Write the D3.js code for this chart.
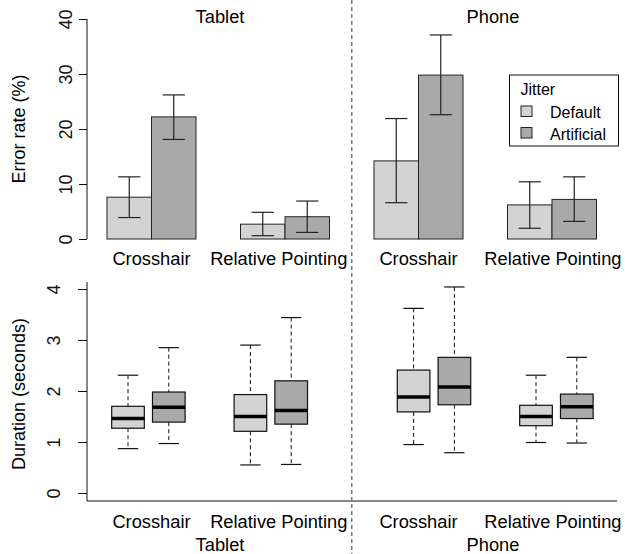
<!DOCTYPE html>
<html>
<head>
<meta charset="utf-8">
<script src="https://cdn.jsdelivr.net/npm/d3@7"></script>
<style>
  body { margin: 0; background: #fff; }
  svg { font-family: "Liberation Sans", Arial, sans-serif; }
</style>
</head>
<body>
<svg id="chart" width="625" height="554"></svg>
<script>
// devices / techniques / jitter conditions
var devices = ["Tablet", "Phone"];
var techniques = ["Crosshair", "Relative Pointing"];
var jitter = ["Default", "Artificial"];

// error rate (%) per bar: tablet-crosshair D/A, tablet-relative D/A, phone-crosshair D/A, phone-relative D/A
var errMean = [7.6, 22.2, 2.7, 4.05, 14.2, 29.8, 6.2, 7.2];
var errLow  = [3.9, 18.1, 0.6, 1.2, 6.6, 22.6, 1.95, 3.2];
var errHigh = [11.3, 26.2, 4.85, 6.9, 21.9, 37.1, 10.4, 11.3];

// duration (seconds) boxplot stats, same order
var durLo  = [0.87, 0.97, 0.55, 0.56, 0.95, 0.79, 0.99, 0.98];
var durQ1  = [1.27, 1.39, 1.21, 1.35, 1.59, 1.73, 1.32, 1.46];
var durMed = [1.46, 1.68, 1.50, 1.62, 1.88, 2.08, 1.50, 1.69];
var durQ3  = [1.70, 1.98, 1.93, 2.20, 2.41, 2.66, 1.72, 1.94];
var durHi  = [2.31, 2.85, 2.90, 3.44, 3.62, 4.04, 2.31, 2.66];

var errTicks = [0, 10, 20, 30, 40];
var durTicks = [0, 1, 2, 3, 4];

var fills = ["#d3d3d3", "#a9a9a9"];

var svg = d3.select("#chart");

// bar slots in barplot units: 2 bars + 1 gap per group
var barPos = [1, 2, 4, 5, 7, 8, 10, 11];
var boxPos = [1, 2, 4, 5, 8, 9, 11, 12];

var xTop = d3.scaleLinear().domain([1, 12]).range([107, 596.5]);
var yTop = d3.scaleLinear().domain([0, 40]).range([239, 19]);
var xBot = d3.scaleLinear().domain([1, 12]).range([128, 576.8]);
var yBot = d3.scaleLinear().domain([0, 4]).range([493, 289]);

// ---- top panel: error rate bars ----
var gTop = svg.append("g");

gTop.selectAll(".bar")
  .data(errMean).enter()
  .append("rect")
  .attr("class", "bar")
  .attr("x", function(d, i){ return xTop(barPos[i]); })
  .attr("y", function(d){ return yTop(d); })
  .attr("width", xTop(2) - xTop(1))
  .attr("height", function(d){ return yTop(0) - yTop(d); })
  .attr("fill", function(d, i){ return fills[i % 2]; })
  .attr("stroke", "#222")
  .attr("stroke-width", 1);

var capW = 0.25;
var eb = gTop.selectAll(".err")
  .data(errMean).enter()
  .append("g")
  .attr("class", "err")
  .attr("stroke", "#222")
  .attr("stroke-width", 1.2);
eb.append("line")
  .attr("x1", function(d, i){ return xTop(barPos[i] + 0.5); })
  .attr("x2", function(d, i){ return xTop(barPos[i] + 0.5); })
  .attr("y1", function(d, i){ return yTop(errLow[i]); })
  .attr("y2", function(d, i){ return yTop(errHigh[i]); });
eb.append("line")
  .attr("x1", function(d, i){ return xTop(barPos[i] + 0.5 - capW); })
  .attr("x2", function(d, i){ return xTop(barPos[i] + 0.5 + capW); })
  .attr("y1", function(d, i){ return yTop(errLow[i]); })
  .attr("y2", function(d, i){ return yTop(errLow[i]); });
eb.append("line")
  .attr("x1", function(d, i){ return xTop(barPos[i] + 0.5 - capW); })
  .attr("x2", function(d, i){ return xTop(barPos[i] + 0.5 + capW); })
  .attr("y1", function(d, i){ return yTop(errHigh[i]); })
  .attr("y2", function(d, i){ return yTop(errHigh[i]); });

var yAxisTop = d3.axisLeft(yTop).tickValues(errTicks).tickFormat(d3.format("d")).tickSize(8).tickPadding(0);
var gyt = gTop.append("g")
  .attr("transform", "translate(87,0)")
  .call(yAxisTop);
gyt.select(".domain").attr("d", "M0," + yTop(0) + "V" + yTop(40)).attr("stroke", "#111");
gyt.selectAll(".tick line").attr("stroke", "#111");
gyt.selectAll(".tick text")
  .attr("x", 0).attr("dy", 0)
  .attr("transform", "translate(-15,0)rotate(-90)")
  .attr("text-anchor", "middle")
  .attr("font-size", 18)
  .attr("fill", "#111");

gTop.append("text")
  .attr("transform", "translate(25," + (yTop(20)) + ")rotate(-90)")
  .attr("text-anchor", "middle")
  .attr("font-size", 18)
  .text("Error rate (%)");

// group labels under the bars (in top-panel bar units)
var labelPos = [2, 4.86, 8, 11.02];
gTop.selectAll(".cat")
  .data(labelPos).enter()
  .append("text")
  .attr("x", function(d){ return xTop(d); })
  .attr("y", 265)
  .attr("text-anchor", "middle")
  .attr("font-size", 18.3)
  .text(function(d, i){ return techniques[i % 2]; });

var devX = [220, 493];
gTop.selectAll(".dev")
  .data(devices).enter()
  .append("text")
  .attr("x", function(d, i){ return devX[i]; })
  .attr("y", 23)
  .attr("text-anchor", "middle")
  .attr("font-size", 18.3)
  .text(function(d){ return d; });

// legend
var leg = gTop.append("g");
leg.append("rect")
  .attr("x", 509.5).attr("y", 75)
  .attr("width", 109).attr("height", 71)
  .attr("fill", "#fff").attr("stroke", "#111");
leg.append("text")
  .attr("x", 520.5).attr("y", 95)
  .attr("font-size", 16)
  .text("Jitter");
var li = leg.selectAll(".li")
  .data(jitter).enter()
  .append("g")
  .attr("transform", function(d, i){ return "translate(0," + (i * 21.5) + ")"; });
li.append("rect")
  .attr("x", 521).attr("y", 106)
  .attr("width", 11).attr("height", 10.5)
  .attr("fill", function(d, i){ return fills[i]; })
  .attr("stroke", "#222");
li.append("text")
  .attr("x", 550).attr("y", 118)
  .attr("font-size", 16)
  .text(function(d){ return d; });

// ---- bottom panel: duration boxplots ----
var gBot = svg.append("g");
var boxW = 0.4, stapW = 0.25;

var bx = gBot.selectAll(".box")
  .data(durMed).enter()
  .append("g")
  .attr("class", "box");

bx.append("line")
  .attr("x1", function(d, i){ return xBot(boxPos[i]); })
  .attr("x2", function(d, i){ return xBot(boxPos[i]); })
  .attr("y1", function(d, i){ return yBot(durHi[i]); })
  .attr("y2", function(d, i){ return yBot(durQ3[i]); })
  .attr("stroke", "#111").attr("stroke-dasharray", "4,3");
bx.append("line")
  .attr("x1", function(d, i){ return xBot(boxPos[i]); })
  .attr("x2", function(d, i){ return xBot(boxPos[i]); })
  .attr("y1", function(d, i){ return yBot(durQ1[i]); })
  .attr("y2", function(d, i){ return yBot(durLo[i]); })
  .attr("stroke", "#111").attr("stroke-dasharray", "4,3");
bx.append("line")
  .attr("x1", function(d, i){ return xBot(boxPos[i] - stapW); })
  .attr("x2", function(d, i){ return xBot(boxPos[i] + stapW); })
  .attr("y1", function(d, i){ return yBot(durHi[i]); })
  .attr("y2", function(d, i){ return yBot(durHi[i]); })
  .attr("stroke", "#111").attr("stroke-width", 1.2);
bx.append("line")
  .attr("x1", function(d, i){ return xBot(boxPos[i] - stapW); })
  .attr("x2", function(d, i){ return xBot(boxPos[i] + stapW); })
  .attr("y1", function(d, i){ return yBot(durLo[i]); })
  .attr("y2", function(d, i){ return yBot(durLo[i]); })
  .attr("stroke", "#111").attr("stroke-width", 1.2);
bx.append("rect")
  .attr("x", function(d, i){ return xBot(boxPos[i] - boxW); })
  .attr("y", function(d, i){ return yBot(durQ3[i]); })
  .attr("width", xBot(1 + 2 * boxW) - xBot(1))
  .attr("height", function(d, i){ return yBot(durQ1[i]) - yBot(durQ3[i]); })
  .attr("fill", function(d, i){ return fills[i % 2]; })
  .attr("stroke", "#111").attr("stroke-width", 1.2);
bx.append("line")
  .attr("x1", function(d, i){ return xBot(boxPos[i] - boxW); })
  .attr("x2", function(d, i){ return xBot(boxPos[i] + boxW); })
  .attr("y1", function(d){ return yBot(d); })
  .attr("y2", function(d){ return yBot(d); })
  .attr("stroke", "#000").attr("stroke-width", 3.5);

var yAxisBot = d3.axisLeft(yBot).tickValues(durTicks).tickFormat(d3.format("d")).tickSize(9).tickPadding(0);
var gyb = gBot.append("g")
  .attr("transform", "translate(87,0)")
  .call(yAxisBot);
gyb.select(".domain").remove();
gyb.selectAll(".tick line").attr("stroke", "#111");
gyb.selectAll(".tick text")
  .attr("x", 0).attr("dy", 0)
  .attr("transform", "translate(-27,0)rotate(-90)")
  .attr("text-anchor", "middle")
  .attr("font-size", 18)
  .attr("fill", "#111");

// L-shaped frame
gBot.append("path")
  .attr("d", "M87,282V501H617")
  .attr("fill", "none")
  .attr("stroke", "#111");

gBot.append("text")
  .attr("transform", "translate(25,394)rotate(-90)")
  .attr("text-anchor", "middle")
  .attr("font-size", 18)
  .text("Duration (seconds)");

gBot.selectAll(".cat")
  .data(labelPos).enter()
  .append("text")
  .attr("x", function(d){ return xTop(d); })
  .attr("y", 528)
  .attr("text-anchor", "middle")
  .attr("font-size", 18.3)
  .text(function(d, i){ return techniques[i % 2]; });

gBot.selectAll(".dev")
  .data(devices).enter()
  .append("text")
  .attr("x", function(d, i){ return devX[i]; })
  .attr("y", 551)
  .attr("text-anchor", "middle")
  .attr("font-size", 18.3)
  .text(function(d){ return d; });

// dashed separator between tablet and phone
svg.append("line")
  .attr("x1", xTop(6.5)).attr("x2", xTop(6.5))
  .attr("y1", 0).attr("y2", 554)
  .attr("stroke", "#777")
  .attr("stroke-width", 1.5)
  .attr("stroke-dasharray", "4,3");
</script>
</body>
</html>
